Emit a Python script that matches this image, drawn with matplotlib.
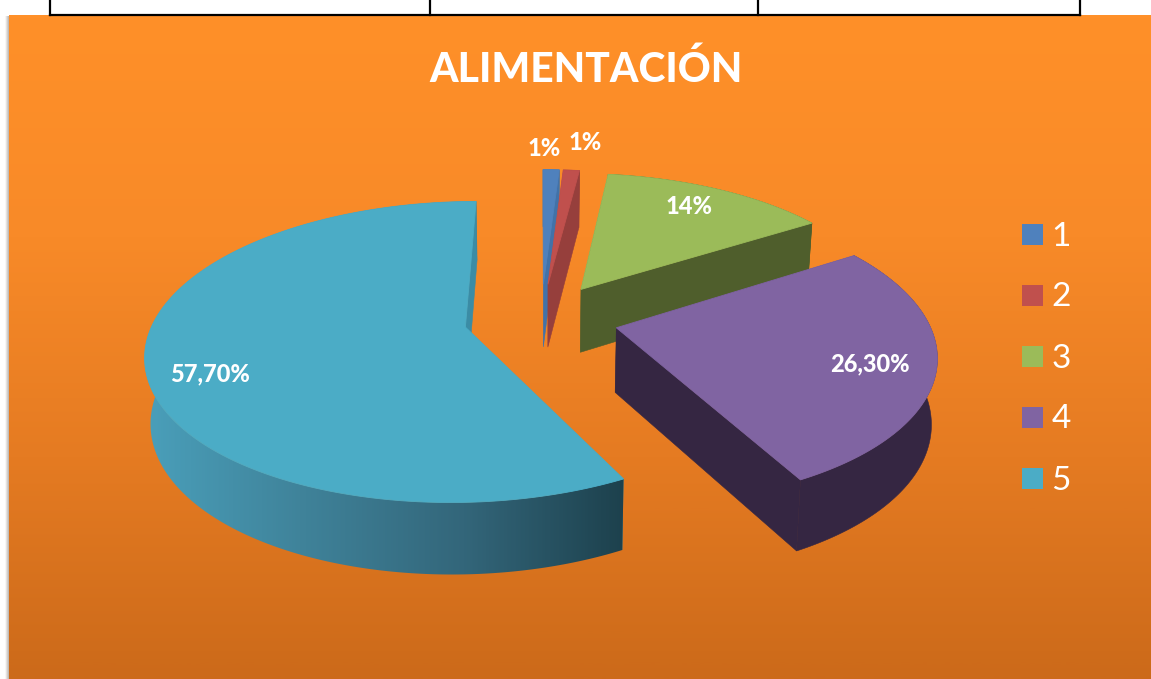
import numpy as np
import matplotlib
matplotlib.use("Agg")
import matplotlib.pyplot as plt
from matplotlib.colors import LinearSegmentedColormap
from matplotlib.patches import Polygon, Rectangle

categories = ["1", "2", "3", "4", "5"]
values = [1, 1, 14, 26.3, 57.7]
value_labels = ["1%", "1%", "14%", "26,30%", "57,70%"]
top_colors = ["#4F81BD", "#C0504D", "#9BBB59", "#8064A2", "#4BACC6"]
side_colors = ["#4272A8", "#963F3C", "#4F5E2C", "#352642", "#3B8CA5"]
label_pos = [(544, 148), (585, 142), (689, 206), (870, 364), (210, 374)]

# projection of the disc, everything in pixels
VX, VY = 541, 318.5
R = 311
RS = 143.6
K = 0.1636
H = 64.2
KZ = 0.102
EXPLODE = 0.248
START = 0.0
BOTTOM_SHRINK = 0.985


def project(x, y):
    d = 1 + K * y
    return VX + R * x / d, VY - RS * y / d


def drop(y):
    return H / (1 + KZ * y)


def lower(x, y):
    # point of the lower disc under (x, y)
    X, Y = project(x, y)
    return VX + (X - VX) * BOTTOM_SHRINK, Y + drop(y)


plt.rcParams["font.family"] = ["Lato", "DejaVu Sans"]
fig = plt.figure(figsize=(11.51, 6.79), dpi=100)
ax = fig.add_axes([0, 0, 1, 1])

# orange background
bg = LinearSegmentedColormap.from_list("bg", ["#FF9029", "#F88A28", "#E57B22", "#CC6A1A"])
ax.imshow(np.linspace(0, 1, 300).reshape(-1, 1), cmap=bg, aspect="auto", extent=[9, 1151, 679, 15], zorder=1)
shadow = LinearSegmentedColormap.from_list("sh", ["#FFFFFF", "#B9B2AC"])
ax.imshow(np.linspace(0, 1, 20).reshape(1, -1), cmap=shadow, aspect="auto", extent=[5, 9, 679, 16], zorder=1)

# table lines above the chart
for x in [50, 430, 758, 1080]:
    ax.plot([x, x], [0, 15], color="black", lw=1.6, zorder=2)
ax.plot([50, 1080], [15, 15], color="black", lw=1.6, zorder=2)

teal_rim = LinearSegmentedColormap.from_list("rim", ["#4A9FBA", "#3F8299", "#33667A", "#1D414D"])

angle = START
for i, val in enumerate(values):
    a0 = angle
    a1 = angle + val * 3.6
    angle = a1
    mid = np.radians((a0 + a1) / 2)
    ox = EXPLODE * np.sin(mid)
    oy = EXPLODE * np.cos(mid)
    t = np.radians(np.linspace(a0, a1, max(int(val * 5), 6)))
    xs = ox + np.sin(t)
    ys = oy + np.cos(t)
    z = 3 + i

    # back cut face
    face = [project(ox, oy), project(xs[0], ys[0]), lower(xs[0], ys[0]), lower(ox, oy)]
    ax.add_patch(Polygon(face, closed=True, fc=side_colors[i], ec="none", zorder=z))

    # rim, the big slice gets a left to right gradient
    rim = [project(a, b) for a, b in zip(xs, ys)] + [lower(a, b) for a, b in zip(xs[::-1], ys[::-1])]
    if i == 4:
        patch = Polygon(rim, closed=True, fc="none", ec="none", zorder=z)
        ax.add_patch(patch)
        im = ax.imshow(np.linspace(0, 1, 300).reshape(1, -1), cmap=teal_rim, aspect="auto",
                       extent=[145, 625, 600, 200], zorder=z)
        im.set_clip_path(patch)
    else:
        ax.add_patch(Polygon(rim, closed=True, fc=side_colors[i], ec=side_colors[i], lw=0.4, zorder=z))

    # front cut face goes over the rim
    face = [project(ox, oy), project(xs[-1], ys[-1]), lower(xs[-1], ys[-1]), lower(ox, oy)]
    ax.add_patch(Polygon(face, closed=True, fc=side_colors[i], ec=side_colors[i], lw=0.4, zorder=z))

    # top
    top = [project(ox, oy)] + [project(a, b) for a, b in zip(xs, ys)]
    ax.add_patch(Polygon(top, closed=True, fc=top_colors[i], ec=top_colors[i], lw=0.6, zorder=z))

for lab, (x, y) in zip(value_labels, label_pos):
    ax.text(x, y, lab, color="white", fontsize=17, fontweight="black", ha="center", va="center", zorder=20)

ax.text(586, 69, "ALIMENTACIÓN", color="white", fontsize=29.3, fontweight="black", ha="center", va="center", zorder=20)

# legend
for i, cat in enumerate(categories):
    y = 234.5 + i * 61
    ax.add_patch(Rectangle((1022, y - 10.5), 21, 21, fc=top_colors[i], ec="none", zorder=20))
    ax.text(1061, y + 2, cat, color="white", fontsize=24, ha="center", va="center", zorder=20)

ax.set_xlim(0, 1151)
ax.set_ylim(679, 0)
ax.axis("off")
fig.savefig("out.png", dpi=100, facecolor="white")
